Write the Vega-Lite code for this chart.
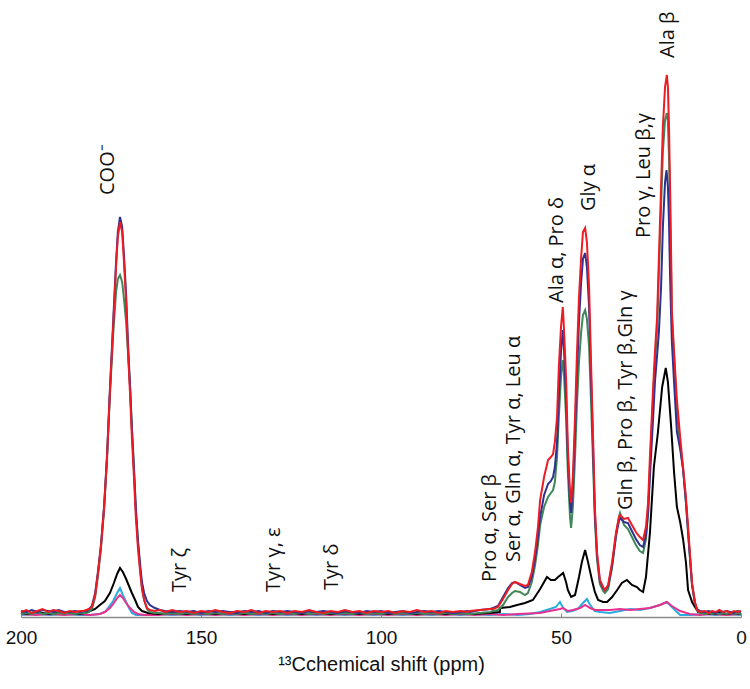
{
"$schema": "https://vega.github.io/schema/vega-lite/v6.json",
"width": 720, "height": 612,
"autosize": {"type": "none"},
"padding": {"left": 21, "top": 5, "right": 9, "bottom": 72},
"background": "white",
"config": {"view": {"stroke": null}},
"datasets": {
"red": [
{"ppm":200,"intensity":5},{"ppm":198.5,"intensity":7},{"ppm":197,"intensity":4},{"ppm":195.5,"intensity":6},{"ppm":194,"intensity":8},{"ppm":192.5,"intensity":5},{"ppm":191,"intensity":7},{"ppm":189.5,"intensity":6},{"ppm":188,"intensity":4},{"ppm":186.5,"intensity":6},{"ppm":185,"intensity":5},{"ppm":183.5,"intensity":6},{"ppm":182.6,"intensity":6},
{"ppm":181.9,"intensity":7},{"ppm":181.1,"intensity":8},{"ppm":180.3,"intensity":10},{"ppm":179.4,"intensity":22},{"ppm":178.6,"intensity":44},{"ppm":177.8,"intensity":70},{"ppm":176.9,"intensity":110},{"ppm":176.1,"intensity":160},{"ppm":175.3,"intensity":225},{"ppm":174.4,"intensity":290},{"ppm":173.6,"intensity":350},{"ppm":173.1,"intensity":380},{"ppm":172.5,"intensity":395},{"ppm":171.9,"intensity":385},{"ppm":171.4,"intensity":355},{"ppm":170.8,"intensity":315},{"ppm":170.3,"intensity":268},{"ppm":169.7,"intensity":222},{"ppm":169.2,"intensity":180},{"ppm":168.6,"intensity":138},{"ppm":168.1,"intensity":100},{"ppm":167.5,"intensity":68},{"ppm":166.9,"intensity":45},{"ppm":166.4,"intensity":28},{"ppm":165.8,"intensity":17},{"ppm":165,"intensity":9},{"ppm":164.2,"intensity":7},{"ppm":162.8,"intensity":6},{"ppm":161.4,"intensity":7},
{"ppm":160,"intensity":5},{"ppm":158,"intensity":7},{"ppm":156,"intensity":5},{"ppm":154,"intensity":6},{"ppm":152,"intensity":4},{"ppm":150,"intensity":6},{"ppm":148,"intensity":5},{"ppm":146,"intensity":7},{"ppm":144,"intensity":5},{"ppm":142,"intensity":4},{"ppm":140,"intensity":6},{"ppm":138,"intensity":5},{"ppm":136,"intensity":7},{"ppm":134,"intensity":4},{"ppm":132,"intensity":6},{"ppm":130,"intensity":5},{"ppm":128,"intensity":6},{"ppm":126,"intensity":4},{"ppm":124,"intensity":6},{"ppm":122,"intensity":5},{"ppm":120,"intensity":7},{"ppm":118,"intensity":5},{"ppm":116,"intensity":4},{"ppm":114,"intensity":6},{"ppm":112,"intensity":5},{"ppm":110,"intensity":7},{"ppm":108,"intensity":5},{"ppm":106,"intensity":6},{"ppm":104,"intensity":4},{"ppm":102,"intensity":6},{"ppm":100,"intensity":5},{"ppm":98,"intensity":6},{"ppm":96,"intensity":4},{"ppm":94,"intensity":6},{"ppm":92,"intensity":5},{"ppm":90,"intensity":7},{"ppm":88,"intensity":5},{"ppm":86,"intensity":6},{"ppm":84,"intensity":4},{"ppm":82,"intensity":6},{"ppm":80,"intensity":5},{"ppm":78,"intensity":6},{"ppm":76,"intensity":5},
{"ppm":75.3,"intensity":6},{"ppm":72.5,"intensity":7},{"ppm":69.7,"intensity":8},{"ppm":68.9,"intensity":8},{"ppm":67.5,"intensity":10},{"ppm":66.1,"intensity":18},{"ppm":64.7,"intensity":27},{"ppm":63.6,"intensity":33},{"ppm":62.8,"intensity":35},{"ppm":61.4,"intensity":33},{"ppm":60,"intensity":31},{"ppm":59.2,"intensity":32},{"ppm":58.1,"intensity":45},{"ppm":57.2,"intensity":65},{"ppm":56.4,"intensity":90},{"ppm":55.8,"intensity":117},{"ppm":54.7,"intensity":140},{"ppm":53.6,"intensity":157},{"ppm":52.8,"intensity":160},{"ppm":52.2,"intensity":163},{"ppm":51.7,"intensity":175},{"ppm":51.1,"intensity":200},{"ppm":50.6,"intensity":250},{"ppm":50,"intensity":290},{"ppm":49.5,"intensity":310},{"ppm":49.2,"intensity":290},{"ppm":48.6,"intensity":240},{"ppm":48.1,"intensity":170},{"ppm":47.5,"intensity":125},{"ppm":47.2,"intensity":114},{"ppm":46.7,"intensity":140},{"ppm":46.1,"intensity":200},{"ppm":45.6,"intensity":260},{"ppm":45,"intensity":320},{"ppm":44.4,"intensity":360},{"ppm":43.9,"intensity":385},{"ppm":43.3,"intensity":389},{"ppm":42.8,"intensity":375},{"ppm":42.2,"intensity":330},{"ppm":41.7,"intensity":260},{"ppm":41.1,"intensity":180},{"ppm":40.6,"intensity":110},{"ppm":40,"intensity":65},{"ppm":39.2,"intensity":37},{"ppm":38.3,"intensity":30},{"ppm":37.8,"intensity":27},{"ppm":36.9,"intensity":32},{"ppm":35.8,"intensity":55},{"ppm":34.7,"intensity":85},{"ppm":33.9,"intensity":100},{"ppm":33.6,"intensity":102},{"ppm":32.5,"intensity":98},{"ppm":31.4,"intensity":99},{"ppm":30.3,"intensity":92},{"ppm":29.2,"intensity":85},{"ppm":28.1,"intensity":80},{"ppm":27.2,"intensity":77},{"ppm":26.4,"intensity":90},{"ppm":25.8,"intensity":115},{"ppm":25.3,"intensity":160},{"ppm":24.4,"intensity":230},{"ppm":23.9,"intensity":265},{"ppm":23.3,"intensity":300},{"ppm":22.8,"intensity":360},{"ppm":22.2,"intensity":430},{"ppm":21.7,"intensity":490},{"ppm":21.1,"intensity":530},{"ppm":20.6,"intensity":542},{"ppm":20.3,"intensity":530},{"ppm":20,"intensity":490},{"ppm":19.7,"intensity":430},{"ppm":19.4,"intensity":360},{"ppm":19.2,"intensity":305},{"ppm":18.6,"intensity":265},{"ppm":17.8,"intensity":217},{"ppm":16.9,"intensity":180},{"ppm":16.1,"intensity":150},{"ppm":15.3,"intensity":120},{"ppm":14.4,"intensity":75},{"ppm":13.6,"intensity":34},{"ppm":12.8,"intensity":15},{"ppm":12.2,"intensity":7},{"ppm":11.4,"intensity":5},{"ppm":10,"intensity":6},{"ppm":9,"intensity":4},{"ppm":8,"intensity":6},{"ppm":7,"intensity":5},{"ppm":6,"intensity":7},{"ppm":5,"intensity":5},{"ppm":4,"intensity":6},{"ppm":3,"intensity":4},{"ppm":2,"intensity":6},{"ppm":1,"intensity":5},{"ppm":0,"intensity":6}
],
"blue": [
{"ppm":200,"intensity":6},{"ppm":198.5,"intensity":5},{"ppm":197,"intensity":7},{"ppm":195.5,"intensity":5},{"ppm":194,"intensity":7},{"ppm":192.5,"intensity":6},{"ppm":191,"intensity":5},{"ppm":189.5,"intensity":7},{"ppm":188,"intensity":5},{"ppm":186.5,"intensity":5},{"ppm":185,"intensity":6},{"ppm":183.5,"intensity":5},{"ppm":182.6,"intensity":6},
{"ppm":181.9,"intensity":6},{"ppm":181.1,"intensity":8},{"ppm":180.3,"intensity":11},{"ppm":179.4,"intensity":24},{"ppm":178.6,"intensity":46},{"ppm":177.8,"intensity":72},{"ppm":176.9,"intensity":112},{"ppm":176.1,"intensity":162},{"ppm":175.3,"intensity":228},{"ppm":174.4,"intensity":295},{"ppm":173.6,"intensity":355},{"ppm":173.1,"intensity":385},{"ppm":172.5,"intensity":400},{"ppm":171.9,"intensity":390},{"ppm":171.4,"intensity":362},{"ppm":170.8,"intensity":322},{"ppm":170.3,"intensity":276},{"ppm":169.7,"intensity":230},{"ppm":169.2,"intensity":188},{"ppm":168.6,"intensity":146},{"ppm":168.1,"intensity":108},{"ppm":167.5,"intensity":76},{"ppm":166.9,"intensity":52},{"ppm":166.4,"intensity":35},{"ppm":165.8,"intensity":24},{"ppm":165,"intensity":16},{"ppm":164.2,"intensity":12},{"ppm":162.8,"intensity":9},{"ppm":161.4,"intensity":7},
{"ppm":160,"intensity":6},{"ppm":158,"intensity":5},{"ppm":156,"intensity":6},{"ppm":154,"intensity":5},{"ppm":152,"intensity":6},{"ppm":150,"intensity":4},{"ppm":148,"intensity":6},{"ppm":146,"intensity":5},{"ppm":144,"intensity":6},{"ppm":142,"intensity":5},{"ppm":140,"intensity":4},{"ppm":138,"intensity":6},{"ppm":136,"intensity":5},{"ppm":134,"intensity":6},{"ppm":132,"intensity":4},{"ppm":130,"intensity":6},{"ppm":128,"intensity":5},{"ppm":126,"intensity":6},{"ppm":124,"intensity":5},{"ppm":122,"intensity":4},{"ppm":120,"intensity":6},{"ppm":118,"intensity":5},{"ppm":116,"intensity":6},{"ppm":114,"intensity":5},{"ppm":112,"intensity":4},{"ppm":110,"intensity":6},{"ppm":108,"intensity":5},{"ppm":106,"intensity":4},{"ppm":104,"intensity":6},{"ppm":102,"intensity":5},{"ppm":100,"intensity":6},{"ppm":98,"intensity":4},{"ppm":96,"intensity":5},{"ppm":94,"intensity":6},{"ppm":92,"intensity":4},{"ppm":90,"intensity":5},{"ppm":88,"intensity":6},{"ppm":86,"intensity":5},{"ppm":84,"intensity":6},{"ppm":82,"intensity":5},{"ppm":80,"intensity":4},{"ppm":78,"intensity":5},{"ppm":76,"intensity":6},
{"ppm":75.3,"intensity":5},{"ppm":72.5,"intensity":7},{"ppm":69.7,"intensity":8},{"ppm":68.9,"intensity":9},{"ppm":67.5,"intensity":11},{"ppm":66.1,"intensity":20},{"ppm":64.7,"intensity":29},{"ppm":63.6,"intensity":34},{"ppm":62.8,"intensity":35},{"ppm":61.4,"intensity":32},{"ppm":60,"intensity":29},{"ppm":59.2,"intensity":30},{"ppm":58.1,"intensity":40},{"ppm":57.2,"intensity":58},{"ppm":56.4,"intensity":80},{"ppm":55.8,"intensity":100},{"ppm":54.7,"intensity":122},{"ppm":53.6,"intensity":133},{"ppm":52.8,"intensity":136},{"ppm":52.2,"intensity":140},{"ppm":51.7,"intensity":150},{"ppm":51.1,"intensity":175},{"ppm":50.6,"intensity":220},{"ppm":50,"intensity":265},{"ppm":49.5,"intensity":287},{"ppm":49.2,"intensity":270},{"ppm":48.6,"intensity":220},{"ppm":48.1,"intensity":160},{"ppm":47.5,"intensity":115},{"ppm":47.2,"intensity":104},{"ppm":46.7,"intensity":130},{"ppm":46.1,"intensity":185},{"ppm":45.6,"intensity":240},{"ppm":45,"intensity":295},{"ppm":44.4,"intensity":335},{"ppm":43.9,"intensity":358},{"ppm":43.3,"intensity":364},{"ppm":42.8,"intensity":350},{"ppm":42.2,"intensity":310},{"ppm":41.7,"intensity":245},{"ppm":41.1,"intensity":170},{"ppm":40.6,"intensity":105},{"ppm":40,"intensity":62},{"ppm":39.2,"intensity":36},{"ppm":38.3,"intensity":29},{"ppm":37.8,"intensity":27},{"ppm":36.9,"intensity":31},{"ppm":35.8,"intensity":52},{"ppm":34.7,"intensity":82},{"ppm":33.9,"intensity":96},{"ppm":33.6,"intensity":99},{"ppm":32.5,"intensity":95},{"ppm":31.4,"intensity":94},{"ppm":30.3,"intensity":86},{"ppm":29.2,"intensity":78},{"ppm":28.1,"intensity":72},{"ppm":27.2,"intensity":70},{"ppm":26.4,"intensity":82},{"ppm":25.8,"intensity":105},{"ppm":25.3,"intensity":140},{"ppm":24.4,"intensity":200},{"ppm":23.9,"intensity":235},{"ppm":23.3,"intensity":262},{"ppm":22.8,"intensity":285},{"ppm":22.2,"intensity":330},{"ppm":21.7,"intensity":390},{"ppm":21.1,"intensity":435},{"ppm":20.7,"intensity":447},{"ppm":20.3,"intensity":430},{"ppm":20,"intensity":395},{"ppm":19.7,"intensity":340},{"ppm":19.4,"intensity":300},{"ppm":19.2,"intensity":275},{"ppm":18.6,"intensity":235},{"ppm":17.8,"intensity":185},{"ppm":16.9,"intensity":168},{"ppm":16.1,"intensity":148},{"ppm":15.3,"intensity":115},{"ppm":14.4,"intensity":70},{"ppm":13.6,"intensity":32},{"ppm":12.8,"intensity":14},{"ppm":12.2,"intensity":8},{"ppm":11.4,"intensity":6},{"ppm":10,"intensity":5},{"ppm":9,"intensity":6},{"ppm":8,"intensity":5},{"ppm":7,"intensity":4},{"ppm":6,"intensity":6},{"ppm":5,"intensity":5},{"ppm":4,"intensity":6},{"ppm":3,"intensity":5},{"ppm":2,"intensity":4},{"ppm":1,"intensity":6},{"ppm":0,"intensity":5}
],
"green": [
{"ppm":200,"intensity":3},{"ppm":198.5,"intensity":4},{"ppm":197,"intensity":3},{"ppm":195.5,"intensity":5},{"ppm":194,"intensity":3},{"ppm":192.5,"intensity":4},{"ppm":191,"intensity":3},{"ppm":189.5,"intensity":4},{"ppm":188,"intensity":3},{"ppm":186.5,"intensity":4},{"ppm":185,"intensity":3},{"ppm":183.5,"intensity":4},{"ppm":182.6,"intensity":4},
{"ppm":181.9,"intensity":4},{"ppm":181.1,"intensity":5},{"ppm":180.3,"intensity":8},{"ppm":179.4,"intensity":20},{"ppm":178.6,"intensity":42},{"ppm":177.8,"intensity":68},{"ppm":176.9,"intensity":108},{"ppm":176.1,"intensity":158},{"ppm":175.3,"intensity":222},{"ppm":174.4,"intensity":282},{"ppm":173.6,"intensity":325},{"ppm":173.1,"intensity":338},{"ppm":172.5,"intensity":342},{"ppm":171.9,"intensity":335},{"ppm":171.4,"intensity":318},{"ppm":170.8,"intensity":295},{"ppm":170.3,"intensity":265},{"ppm":169.7,"intensity":230},{"ppm":169.2,"intensity":190},{"ppm":168.6,"intensity":148},{"ppm":168.1,"intensity":108},{"ppm":167.5,"intensity":74},{"ppm":166.9,"intensity":48},{"ppm":166.4,"intensity":30},{"ppm":165.8,"intensity":17},{"ppm":165,"intensity":8},{"ppm":164.2,"intensity":5},{"ppm":162.8,"intensity":4},{"ppm":161.4,"intensity":4},
{"ppm":160,"intensity":3},{"ppm":158,"intensity":4},{"ppm":156,"intensity":3},{"ppm":154,"intensity":4},{"ppm":152,"intensity":3},{"ppm":150,"intensity":4},{"ppm":148,"intensity":3},{"ppm":146,"intensity":4},{"ppm":144,"intensity":3},{"ppm":142,"intensity":4},{"ppm":140,"intensity":3},{"ppm":138,"intensity":4},{"ppm":136,"intensity":3},{"ppm":134,"intensity":4},{"ppm":132,"intensity":3},{"ppm":130,"intensity":4},{"ppm":128,"intensity":3},{"ppm":126,"intensity":4},{"ppm":124,"intensity":3},{"ppm":122,"intensity":4},{"ppm":120,"intensity":3},{"ppm":118,"intensity":4},{"ppm":116,"intensity":3},{"ppm":114,"intensity":4},{"ppm":112,"intensity":3},{"ppm":110,"intensity":4},{"ppm":108,"intensity":3},{"ppm":106,"intensity":4},{"ppm":104,"intensity":3},{"ppm":102,"intensity":4},{"ppm":100,"intensity":3},{"ppm":98,"intensity":4},{"ppm":96,"intensity":3},{"ppm":94,"intensity":4},{"ppm":92,"intensity":3},{"ppm":90,"intensity":4},{"ppm":88,"intensity":3},{"ppm":86,"intensity":4},{"ppm":84,"intensity":3},{"ppm":82,"intensity":4},{"ppm":80,"intensity":3},{"ppm":78,"intensity":4},{"ppm":76,"intensity":3},
{"ppm":75.3,"intensity":3},{"ppm":72.5,"intensity":4},{"ppm":69.7,"intensity":5},{"ppm":68.9,"intensity":6},{"ppm":67.5,"intensity":7},{"ppm":66.1,"intensity":12},{"ppm":64.7,"intensity":20},{"ppm":63.6,"intensity":24},{"ppm":62.8,"intensity":26},{"ppm":61.4,"intensity":25},{"ppm":60,"intensity":22},{"ppm":59.2,"intensity":24},{"ppm":58.1,"intensity":35},{"ppm":57.2,"intensity":52},{"ppm":56.4,"intensity":72},{"ppm":55.8,"intensity":92},{"ppm":54.7,"intensity":110},{"ppm":53.6,"intensity":120},{"ppm":52.8,"intensity":124},{"ppm":52.2,"intensity":127},{"ppm":51.7,"intensity":135},{"ppm":51.1,"intensity":160},{"ppm":50.6,"intensity":200},{"ppm":50,"intensity":240},{"ppm":49.5,"intensity":257},{"ppm":49.2,"intensity":245},{"ppm":48.6,"intensity":200},{"ppm":48.1,"intensity":145},{"ppm":47.5,"intensity":100},{"ppm":47.2,"intensity":89},{"ppm":46.7,"intensity":110},{"ppm":46.1,"intensity":160},{"ppm":45.6,"intensity":210},{"ppm":45,"intensity":255},{"ppm":44.4,"intensity":285},{"ppm":43.9,"intensity":302},{"ppm":43.3,"intensity":307},{"ppm":42.8,"intensity":298},{"ppm":42.2,"intensity":270},{"ppm":41.7,"intensity":220},{"ppm":41.1,"intensity":155},{"ppm":40.6,"intensity":98},{"ppm":40,"intensity":58},{"ppm":39.2,"intensity":33},{"ppm":38.3,"intensity":26},{"ppm":37.8,"intensity":24},{"ppm":36.9,"intensity":28},{"ppm":35.8,"intensity":50},{"ppm":34.7,"intensity":82},{"ppm":33.9,"intensity":100},{"ppm":33.6,"intensity":104},{"ppm":32.5,"intensity":92},{"ppm":31.4,"intensity":88},{"ppm":30.3,"intensity":80},{"ppm":29.2,"intensity":72},{"ppm":28.1,"intensity":66},{"ppm":27.2,"intensity":64},{"ppm":26.4,"intensity":78},{"ppm":25.8,"intensity":105},{"ppm":25.3,"intensity":150},{"ppm":24.4,"intensity":220},{"ppm":23.9,"intensity":255},{"ppm":23.3,"intensity":288},{"ppm":22.8,"intensity":345},{"ppm":22.2,"intensity":410},{"ppm":21.7,"intensity":465},{"ppm":21.1,"intensity":497},{"ppm":20.6,"intensity":504},{"ppm":20.3,"intensity":495},{"ppm":20,"intensity":460},{"ppm":19.7,"intensity":405},{"ppm":19.4,"intensity":345},{"ppm":19.2,"intensity":300},{"ppm":18.6,"intensity":262},{"ppm":17.8,"intensity":205},{"ppm":16.9,"intensity":172},{"ppm":16.1,"intensity":148},{"ppm":15.3,"intensity":115},{"ppm":14.4,"intensity":70},{"ppm":13.6,"intensity":32},{"ppm":12.8,"intensity":14},{"ppm":12.2,"intensity":7},{"ppm":11.4,"intensity":4},{"ppm":10,"intensity":3},{"ppm":9,"intensity":4},{"ppm":8,"intensity":3},{"ppm":7,"intensity":4},{"ppm":6,"intensity":3},{"ppm":5,"intensity":4},{"ppm":4,"intensity":3},{"ppm":3,"intensity":4},{"ppm":2,"intensity":3},{"ppm":1,"intensity":4},{"ppm":0,"intensity":3}
],
"black": [
{"ppm":200,"intensity":4},{"ppm":198,"intensity":3},{"ppm":196,"intensity":5},{"ppm":194,"intensity":4},{"ppm":192,"intensity":3},{"ppm":190,"intensity":4},{"ppm":188,"intensity":5},{"ppm":186,"intensity":4},{"ppm":184,"intensity":3},
{"ppm":182.2,"intensity":4},{"ppm":180.8,"intensity":6},{"ppm":179.4,"intensity":8},{"ppm":178.1,"intensity":12},{"ppm":176.7,"intensity":16},{"ppm":175.3,"intensity":24},{"ppm":174.2,"intensity":34},{"ppm":173.3,"intensity":43},{"ppm":172.5,"intensity":49},{"ppm":171.7,"intensity":45},{"ppm":170.8,"intensity":38},{"ppm":170,"intensity":31},{"ppm":169.2,"intensity":24},{"ppm":168.3,"intensity":17},{"ppm":167.5,"intensity":10},{"ppm":166.4,"intensity":6},{"ppm":164.7,"intensity":4},
{"ppm":162,"intensity":3},{"ppm":158,"intensity":4},{"ppm":154,"intensity":3},{"ppm":150,"intensity":4},{"ppm":146,"intensity":3},{"ppm":142,"intensity":4},{"ppm":138,"intensity":3},{"ppm":134,"intensity":4},{"ppm":130,"intensity":3},{"ppm":126,"intensity":4},{"ppm":122,"intensity":3},{"ppm":118,"intensity":4},{"ppm":114,"intensity":3},{"ppm":110,"intensity":4},{"ppm":106,"intensity":3},{"ppm":102,"intensity":4},{"ppm":98,"intensity":3},{"ppm":94,"intensity":4},{"ppm":90,"intensity":3},{"ppm":86,"intensity":4},{"ppm":82,"intensity":3},{"ppm":78,"intensity":4},{"ppm":74,"intensity":3},{"ppm":70,"intensity":4},{"ppm":67,"intensity":5},
{"ppm":66.9,"intensity":9},{"ppm":64.2,"intensity":10},{"ppm":62.2,"intensity":12},{"ppm":60,"intensity":14},{"ppm":57.8,"intensity":17},{"ppm":55.8,"intensity":28},{"ppm":53.9,"intensity":40},{"ppm":52.8,"intensity":37},{"ppm":51.7,"intensity":37},{"ppm":50.8,"intensity":40},{"ppm":49.4,"intensity":44},{"ppm":48.6,"intensity":35},{"ppm":48.1,"intensity":27},{"ppm":47.2,"intensity":20},{"ppm":46.1,"intensity":22},{"ppm":45,"intensity":40},{"ppm":44.2,"intensity":55},{"ppm":43.3,"intensity":67},{"ppm":42.5,"intensity":55},{"ppm":41.4,"intensity":37},{"ppm":40.6,"intensity":25},{"ppm":39.7,"intensity":17},{"ppm":38.3,"intensity":15},{"ppm":37.2,"intensity":15},{"ppm":35.8,"intensity":20},{"ppm":34.4,"intensity":27},{"ppm":33.1,"intensity":34},{"ppm":31.7,"intensity":37},{"ppm":30.3,"intensity":32},{"ppm":28.9,"intensity":30},{"ppm":28.1,"intensity":27},{"ppm":27.2,"intensity":25},{"ppm":26.4,"intensity":40},{"ppm":25.3,"intensity":84},{"ppm":24.2,"intensity":150},{"ppm":23.1,"intensity":184},{"ppm":21.9,"intensity":230},{"ppm":20.9,"intensity":249},{"ppm":20.3,"intensity":235},{"ppm":19.4,"intensity":190},{"ppm":18.6,"intensity":145},{"ppm":17.8,"intensity":110},{"ppm":16.9,"intensity":95},{"ppm":16.1,"intensity":78},{"ppm":15.3,"intensity":55},{"ppm":14.7,"intensity":27},{"ppm":13.6,"intensity":15},{"ppm":12.8,"intensity":10},{"ppm":11.9,"intensity":5},{"ppm":10,"intensity":4},{"ppm":8,"intensity":3},{"ppm":6,"intensity":4},{"ppm":4,"intensity":3},{"ppm":2,"intensity":4},{"ppm":0,"intensity":3}
],
"cyan": [
{"ppm":200,"intensity":2},{"ppm":196,"intensity":3},{"ppm":192,"intensity":2},{"ppm":188,"intensity":3},{"ppm":184,"intensity":2},
{"ppm":180.8,"intensity":2},{"ppm":178.1,"intensity":3},{"ppm":176.7,"intensity":5},{"ppm":175.6,"intensity":10},{"ppm":174.4,"intensity":16},{"ppm":173.3,"intensity":24},{"ppm":172.5,"intensity":29},{"ppm":171.7,"intensity":22},{"ppm":170.8,"intensity":15},{"ppm":170,"intensity":9},{"ppm":169.2,"intensity":4},{"ppm":168.1,"intensity":2},{"ppm":165.6,"intensity":2},
{"ppm":162,"intensity":3},{"ppm":158,"intensity":2},{"ppm":154,"intensity":3},{"ppm":150,"intensity":2},{"ppm":146,"intensity":3},{"ppm":142,"intensity":2},{"ppm":138,"intensity":3},{"ppm":134,"intensity":2},{"ppm":130,"intensity":3},{"ppm":126,"intensity":2},{"ppm":122,"intensity":3},{"ppm":118,"intensity":2},{"ppm":114,"intensity":3},{"ppm":110,"intensity":2},{"ppm":106,"intensity":3},{"ppm":102,"intensity":2},{"ppm":98,"intensity":3},{"ppm":94,"intensity":2},{"ppm":90,"intensity":3},{"ppm":86,"intensity":2},{"ppm":82,"intensity":3},{"ppm":78,"intensity":2},{"ppm":74,"intensity":3},{"ppm":70,"intensity":2},{"ppm":66,"intensity":3},{"ppm":62,"intensity":2},
{"ppm":58.6,"intensity":3},{"ppm":55.8,"intensity":5},{"ppm":53.1,"intensity":8},{"ppm":51.4,"intensity":10},{"ppm":50.3,"intensity":15},{"ppm":49.4,"intensity":9},{"ppm":48.3,"intensity":5},{"ppm":46.9,"intensity":6},{"ppm":45.3,"intensity":8},{"ppm":43.9,"intensity":14},{"ppm":42.8,"intensity":18},{"ppm":41.9,"intensity":12},{"ppm":40.6,"intensity":6},{"ppm":39.2,"intensity":5},{"ppm":36.4,"intensity":4},{"ppm":33.6,"intensity":6},{"ppm":30.8,"intensity":8},{"ppm":28.1,"intensity":7},{"ppm":25.3,"intensity":9},{"ppm":22.5,"intensity":12},{"ppm":20.6,"intensity":15},{"ppm":19.2,"intensity":10},{"ppm":18.1,"intensity":6},{"ppm":16.9,"intensity":2},{"ppm":14.2,"intensity":2},{"ppm":10,"intensity":3},{"ppm":7,"intensity":2},{"ppm":4,"intensity":3},{"ppm":0,"intensity":2}
],
"magenta": [
{"ppm":200,"intensity":3},{"ppm":196,"intensity":2},{"ppm":192,"intensity":3},{"ppm":188,"intensity":2},{"ppm":184,"intensity":3},
{"ppm":180.8,"intensity":2},{"ppm":178.1,"intensity":3},{"ppm":176.7,"intensity":5},{"ppm":175.3,"intensity":9},{"ppm":174.2,"intensity":14},{"ppm":173.3,"intensity":19},{"ppm":172.5,"intensity":22},{"ppm":171.7,"intensity":19},{"ppm":170.8,"intensity":14},{"ppm":169.7,"intensity":9},{"ppm":168.6,"intensity":5},{"ppm":167.5,"intensity":3},{"ppm":165.6,"intensity":2},
{"ppm":162,"intensity":2},{"ppm":158,"intensity":3},{"ppm":154,"intensity":2},{"ppm":150,"intensity":3},{"ppm":146,"intensity":2},{"ppm":142,"intensity":3},{"ppm":138,"intensity":2},{"ppm":134,"intensity":3},{"ppm":130,"intensity":2},{"ppm":126,"intensity":3},{"ppm":122,"intensity":2},{"ppm":118,"intensity":3},{"ppm":114,"intensity":2},{"ppm":110,"intensity":3},{"ppm":106,"intensity":2},{"ppm":102,"intensity":3},{"ppm":98,"intensity":2},{"ppm":94,"intensity":3},{"ppm":90,"intensity":2},{"ppm":86,"intensity":3},{"ppm":82,"intensity":2},{"ppm":78,"intensity":3},{"ppm":74,"intensity":2},{"ppm":70,"intensity":3},{"ppm":66,"intensity":2},{"ppm":62,"intensity":3},
{"ppm":55.8,"intensity":4},{"ppm":53.1,"intensity":6},{"ppm":50.3,"intensity":8},{"ppm":49.4,"intensity":9},{"ppm":48.1,"intensity":6},{"ppm":46.7,"intensity":7},{"ppm":44.7,"intensity":9},{"ppm":43.3,"intensity":12},{"ppm":41.9,"intensity":9},{"ppm":40.6,"intensity":7},{"ppm":36.4,"intensity":7},{"ppm":33.6,"intensity":8},{"ppm":30.8,"intensity":7},{"ppm":28.1,"intensity":8},{"ppm":25.3,"intensity":9},{"ppm":22.5,"intensity":12},{"ppm":20.6,"intensity":15},{"ppm":19.2,"intensity":11},{"ppm":16.9,"intensity":6},{"ppm":14.2,"intensity":3},{"ppm":11.4,"intensity":2},{"ppm":8,"intensity":3},{"ppm":4,"intensity":2},{"ppm":0,"intensity":3}
],
"labels": [
{"label":"COO⁻","ppm":175.8,"intensity":422},
{"label":"Tyr ζ","ppm":155.8,"intensity":25},
{"label":"Tyr γ, ε","ppm":129.7,"intensity":25},
{"label":"Tyr δ","ppm":113.6,"intensity":27},
{"label":"Pro α, Ser β","ppm":69.7,"intensity":35},
{"label":"Ser α, Gln α, Tyr α, Leu α","ppm":63.1,"intensity":55},
{"label":"Ala α, Pro δ","ppm":51.1,"intensity":314},
{"label":"Gly α","ppm":42.2,"intensity":406},
{"label":"Gln β, Pro β, Tyr β,Gln γ","ppm":31.9,"intensity":107},
{"label":"Pro γ, Leu β,γ","ppm":26.9,"intensity":379},
{"label":"Ala β","ppm":20.3,"intensity":559}
]
},
"encoding": {
"x": {"field":"ppm","type":"quantitative","scale":{"domain":[0,200],"reverse":true,"nice":false},
 "axis":{"values":[200,150,100,50,0],"title":"¹³Cchemical shift (ppm)","grid":false,"labelFlush":false,
 "domainColor":"#8a8a8a","domainWidth":1.5,"ticks":true,"tickSize":-4,"tickColor":"#8a8a8a","tickWidth":1,
 "labelFont":"Liberation Sans","labelFontSize":19,"labelColor":"#111","labelPadding":15,
 "titleFont":"Liberation Sans","titleFontSize":20,"titleFontWeight":"normal","titleColor":"#111","titlePadding":7}},
"y": {"field":"intensity","type":"quantitative","scale":{"domain":[0,612],"nice":false},"axis":null}
},
"layer": [
{"data":{"name":"cyan"},"mark":{"type":"line","color":"#29abe2","strokeWidth":2}},
{"data":{"name":"magenta"},"mark":{"type":"line","color":"#e8308f","strokeWidth":2}},
{"data":{"name":"black"},"mark":{"type":"line","color":"#000000","strokeWidth":2}},
{"data":{"name":"green"},"mark":{"type":"line","color":"#3f8759","strokeWidth":2}},
{"data":{"name":"blue"},"mark":{"type":"line","color":"#2e3192","strokeWidth":2}},
{"data":{"name":"red"},"mark":{"type":"line","color":"#ed1c24","strokeWidth":2}},
{"data":{"name":"labels"},"mark":{"type":"text","angle":270,"align":"left","baseline":"middle","font":"Open Sans","fontSize":20,"color":"#111"},
 "encoding":{"text":{"field":"label","type":"nominal"}}}
]
}
